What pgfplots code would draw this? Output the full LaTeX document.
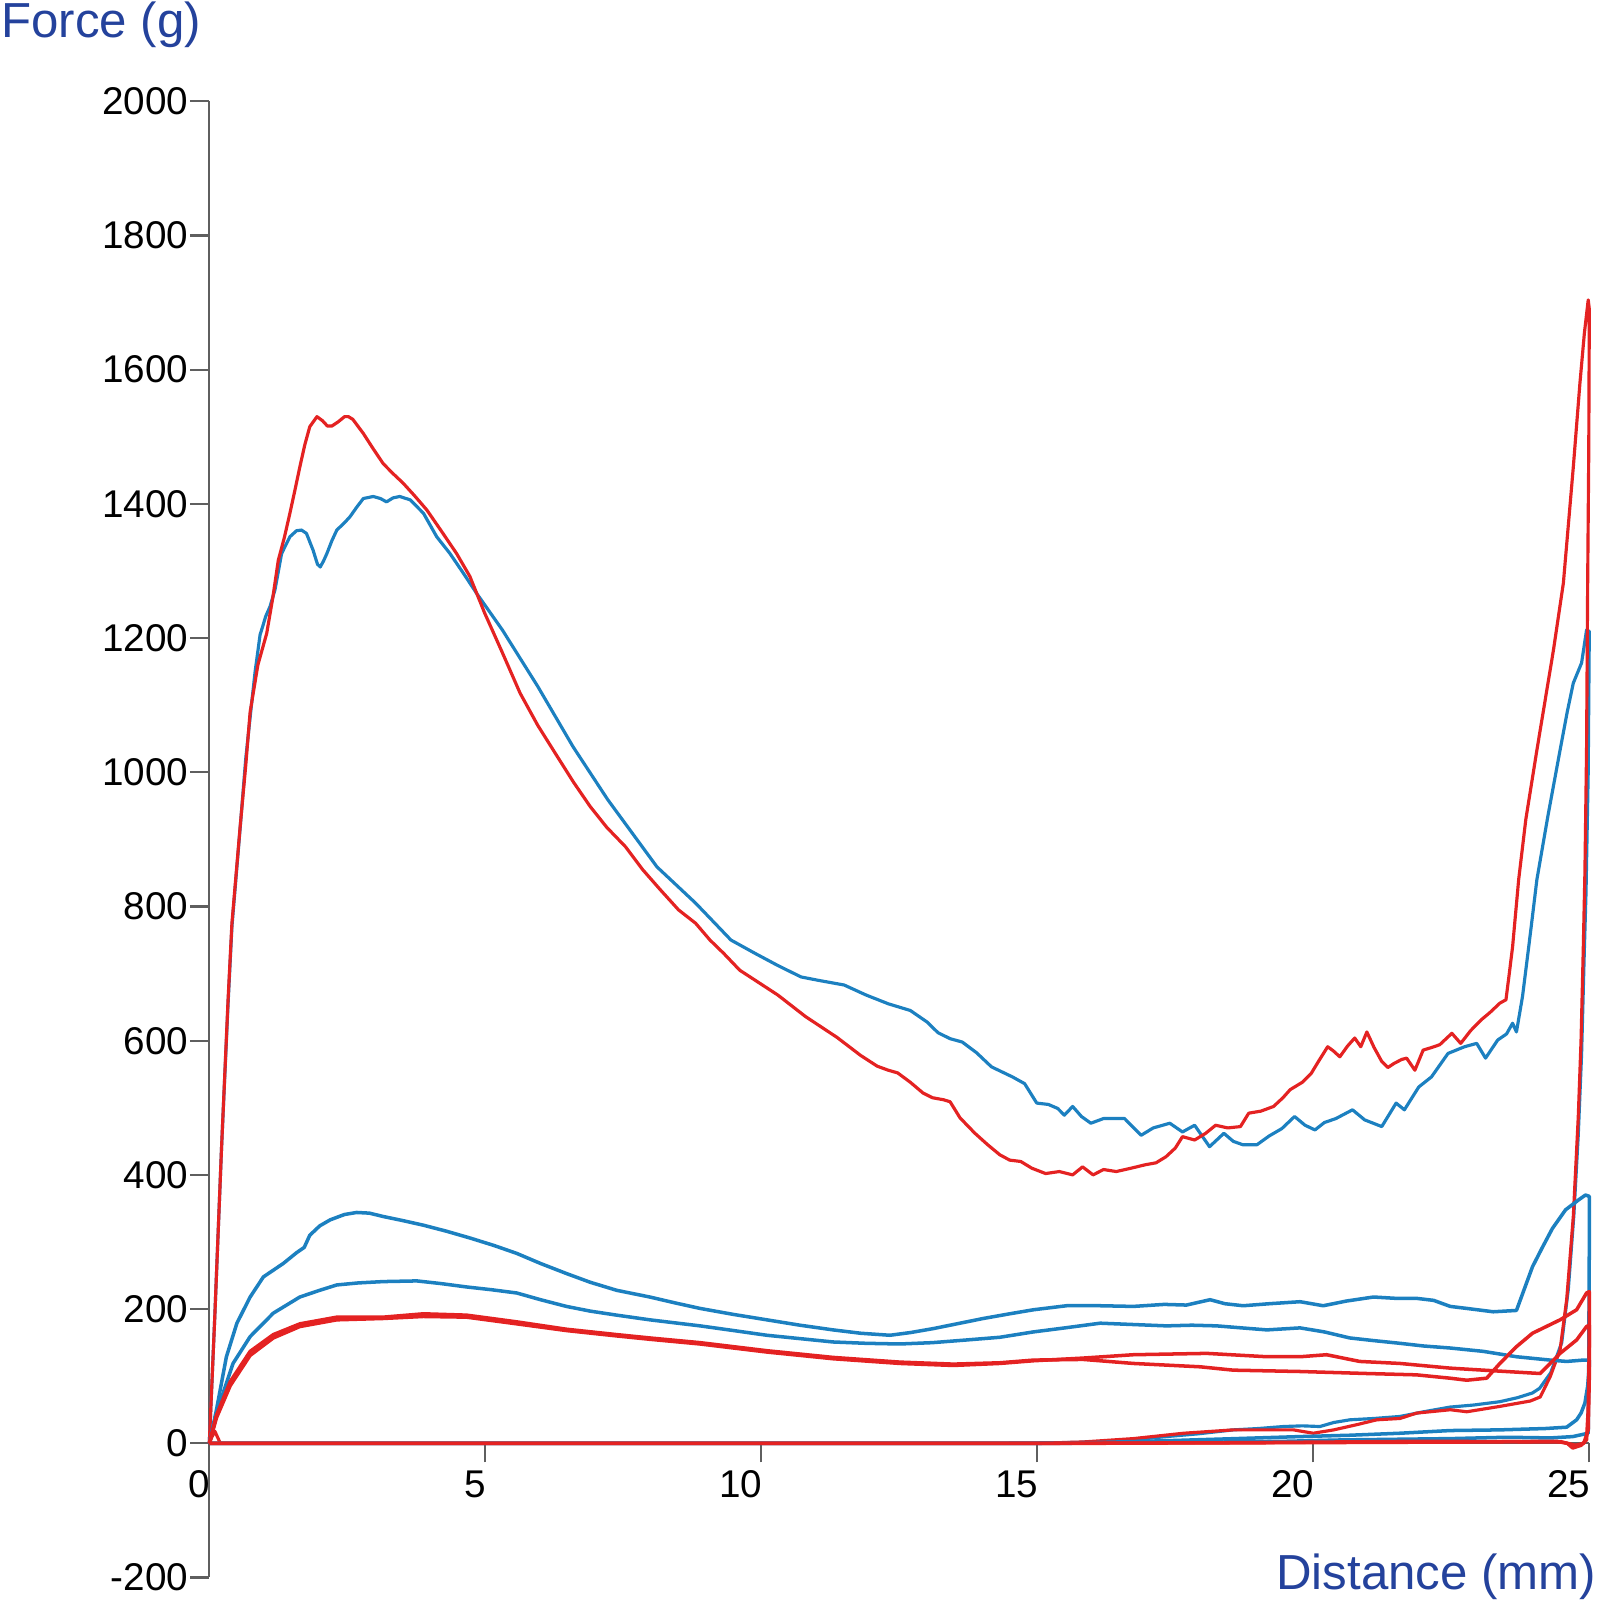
\documentclass[border=0pt]{standalone}
\usepackage{fontspec}
\setmainfont{Liberation Sans}
\usepackage{pgfplots}
\pgfplotsset{compat=1.18}
\definecolor{traceblue}{RGB}{28,128,192}
\definecolor{tracered}{RGB}{228,34,34}
\definecolor{axisgray}{RGB}{95,95,95}
\definecolor{labelblue}{RGB}{36,66,156}

\begin{document}
\begin{tikzpicture}
\begin{axis}[
  name=ax, at={(0,0)}, anchor=south west,
  set layers,
  scale only axis,
  width=13.8cm, height=14.762cm,
  xmin=0, xmax=25, ymin=-200, ymax=2000,
  axis y line=left, axis x line=middle,
  axis line style={-, draw=axisgray, line width=0.6pt},
  hide obscured x ticks=false,
  xtick={0,5,10,15,20,25},
  ytick={-200,0,200,400,600,800,1000,1200,1400,1600,1800,2000},
  xticklabels={0,5,10,15,20,25},
  yticklabels={-200,0,200,400,600,800,1000,1200,1400,1600,1800,2000},
  tick align=outside,
  major tick length=0.19cm,
  every tick/.style={draw=axisgray, line width=0.6pt},
  minor tick num=0,
  tick label style={font=\fontsize{11}{13}\selectfont, text=black},
  xticklabel style={anchor=north east, inner sep=0pt, xshift=0.015cm, yshift=-0.08cm},
  yticklabel style={anchor=east, inner sep=0pt, xshift=-0.015cm},
  clip=false,
  every axis plot/.append style={line join=round},
]

% ---- sample 1, high force (blue) ----
\addplot[traceblue, line width=0.9pt] coordinates {
(0,0) (0.1,190) (0.22,437) (0.34,655) (0.41,770) (0.56,918) (0.66,1020) (0.75,1090)
(0.83,1150) (0.92,1205) (0.97,1218) (1.02,1232) (1.10,1247) (1.19,1272) (1.31,1326)
(1.46,1351) (1.58,1360) (1.67,1361) (1.76,1356) (1.88,1331) (1.96,1310) (2.01,1306)
(2.07,1315) (2.13,1326) (2.22,1345) (2.31,1361) (2.45,1372) (2.55,1381) (2.67,1395)
(2.79,1408) (2.97,1411) (3.10,1408) (3.21,1403) (3.33,1409) (3.45,1411) (3.64,1406)
(3.88,1386) (4.12,1351) (4.36,1326) (4.60,1297) (4.84,1267) (5.31,1212) (5.95,1128)
(6.59,1038) (7.22,959) (8.11,859) (8.81,805) (9.45,750) (9.89,730) (10.3,712)
(10.72,695) (11.03,690) (11.5,683) (11.9,668) (12.3,655) (12.7,645) (13.0,628)
(13.2,612) (13.42,603) (13.64,598) (13.9,582) (14.17,561) (14.55,546) (14.77,536)
(14.99,507) (15.2,505) (15.37,499) (15.49,489) (15.64,502) (15.8,487) (15.97,477)
(16.2,484) (16.58,484) (16.88,459) (17.1,470) (17.4,477) (17.63,464) (17.85,474)
(18.12,442) (18.38,462) (18.55,450) (18.72,445) (18.98,445) (19.2,458) (19.43,469)
(19.66,487) (19.85,474) (20.03,467) (20.2,478) (20.41,484) (20.71,497) (20.93,482)
(21.24,472) (21.5,507) (21.65,497) (21.91,531) (22.14,546) (22.44,581) (22.74,591)
(22.96,596) (23.12,574) (23.34,601) (23.5,610) (23.61,626) (23.68,613) (23.79,666)
(23.94,765) (24.05,840) (24.25,935) (24.47,1033) (24.6,1090) (24.71,1133) (24.86,1163)
(24.95,1212) (25.0,1210)
(24.98,1000) (24.94,820) (24.91,735) (24.86,580) (24.80,460) (24.72,340) (24.62,230)
(24.5,150) (24.3,105) (24.1,82) (23.97,75) (23.7,68) (23.38,62) (22.9,57) (22.48,54)
(22.0,47) (21.57,40) (21.1,37) (20.66,35) (20.37,31) (20.12,25) (19.8,26) (19.46,25)
(19.0,22) (18.55,20) (17.9,14) (17.34,10) (16.7,5) (16.14,2) (15.5,1) (14,0) (10,0)
(5,0) (1,0) (0,0)
};

% ---- sample 1, high force (red) ----
\addplot[tracered, line width=0.9pt] coordinates {
(0,0) (0.1,190) (0.22,437) (0.34,661) (0.41,775) (0.56,920) (0.66,1010) (0.74,1090)
(0.88,1160) (1.04,1207) (1.15,1260) (1.25,1316) (1.36,1350) (1.46,1386) (1.55,1420)
(1.64,1455) (1.73,1488) (1.82,1515) (1.95,1530) (2.05,1524) (2.14,1516) (2.22,1516)
(2.33,1522) (2.45,1530) (2.52,1530) (2.6,1526) (2.79,1505) (2.97,1482) (3.15,1460)
(3.33,1445) (3.51,1431) (3.72,1412) (3.94,1391) (4.2,1360) (4.48,1326) (4.72,1292)
(4.99,1237) (5.3,1180) (5.63,1118) (5.95,1070) (6.27,1028) (6.6,985) (6.90,949)
(7.2,918) (7.54,889) (7.85,855) (8.17,825) (8.5,795) (8.81,775) (9.07,750) (9.32,730)
(9.61,705) (9.89,690) (10.3,668) (10.8,636) (11.37,605) (11.8,578) (12.1,562)
(12.3,556) (12.47,552) (12.7,538) (12.93,522) (13.1,515) (13.3,512) (13.42,509)
(13.6,485) (13.87,462) (14.1,445) (14.32,430) (14.5,422) (14.70,420) (14.9,410)
(15.15,402) (15.4,405) (15.64,400) (15.82,412) (16.01,400) (16.2,408) (16.43,405)
(16.7,410) (16.95,415) (17.15,418) (17.33,427) (17.5,440) (17.63,457) (17.85,452)
(18.05,462) (18.23,474) (18.45,470) (18.68,472) (18.83,492) (19.05,495) (19.28,502)
(19.45,515) (19.58,527) (19.8,538) (19.96,551) (20.1,570) (20.26,591) (20.36,585)
(20.48,576) (20.62,592) (20.75,604) (20.86,591) (20.97,613) (21.1,590) (21.24,569)
(21.35,560) (21.46,566) (21.6,572) (21.69,574) (21.84,556) (21.99,586) (22.15,590)
(22.29,594) (22.51,611) (22.67,596) (22.85,615) (23.04,631) (23.2,642) (23.38,656)
(23.49,661) (23.55,700) (23.61,740) (23.72,840) (23.85,930) (24.05,1033) (24.35,1182)
(24.53,1282) (24.71,1455) (24.83,1580) (24.91,1654) (24.98,1704) (25.0,1690)
(24.99,1480) (24.97,1282) (24.95,1033) (24.92,850) (24.89,735) (24.85,600) (24.80,487)
(24.71,338) (24.59,214) (24.47,139) (24.29,99) (24.11,69) (23.93,63) (23.38,55)
(22.78,47) (22.48,50) (21.87,45) (21.57,37) (21.15,35) (20.8,28) (20.37,20) (20.0,15)
(19.64,20) (19.1,20) (18.55,20) (17.65,15) (16.74,7) (15.83,2) (15,0) (10,0) (5,0)
(1,0) (0.2,0) (0.1,18) (0.05,10) (0,0)
};

% ---- sample 2 (blue, upper) ----
\addplot[traceblue, line width=1pt] coordinates {
(0,0) (0.13,50) (0.31,129) (0.5,179) (0.74,218) (0.98,248) (1.34,268) (1.58,284)
(1.72,292) (1.82,310) (2.0,324) (2.19,333) (2.45,341) (2.67,344) (2.9,343) (3.15,338)
(3.5,332) (3.88,325) (4.3,316) (4.72,306) (5.15,295) (5.57,283) (6.0,268) (6.47,253)
(6.9,240) (7.38,228) (7.98,218) (8.45,209) (8.89,201) (9.5,192) (10.10,184) (10.7,176)
(11.30,169) (11.8,164) (12.33,161) (12.7,165) (13.12,171) (13.6,179) (14.02,186)
(14.5,193) (14.93,199) (15.53,205) (16.14,205) (16.74,204) (17.3,207) (17.7,206)
(18.13,214) (18.4,208) (18.73,205) (19.2,208) (19.76,211) (20.18,205) (20.6,212)
(21.09,218) (21.5,216) (21.87,216) (22.18,213) (22.48,204) (22.78,201) (23.26,196)
(23.68,198) (23.97,263) (24.15,292) (24.33,320) (24.57,348) (24.81,363) (24.93,370)
(25,368) (25,300) (24.99,120) (24.98,15) (24.7,10) (24.3,8) (23.5,9) (22.5,7)
(21.5,6) (20.5,5) (19.5,3) (18.5,2) (17,1) (15.5,0) (0,0)
};

% ---- sample 2 (blue, lower) ----
\addplot[traceblue, line width=1pt] coordinates {
(0,0) (0.19,60) (0.43,119) (0.74,159) (1.16,194) (1.64,218) (2.0,228) (2.31,236)
(2.7,239) (3.15,241) (3.76,242) (4.2,238) (4.66,233) (5.1,229) (5.57,224) (6.0,214)
(6.47,204) (6.9,197) (7.38,191) (7.98,184) (8.89,175) (9.5,168) (10.10,161) (10.7,156)
(11.30,151) (11.9,149) (12.51,148) (13.1,150) (13.72,154) (14.32,158) (14.93,166)
(15.5,172) (16.14,179) (16.74,177) (17.34,175) (17.8,176) (18.25,175) (18.7,172)
(19.16,169) (19.76,172) (20.2,166) (20.66,157) (21.1,153) (21.57,149) (22.0,145)
(22.48,142) (23.08,137) (23.68,129) (24.29,124) (24.59,122) (24.89,124) (25,124)
(25,115) (24.97,85) (24.92,60) (24.85,45) (24.77,35) (24.59,24) (24.2,22) (23.38,20)
(22.48,19) (21.57,15) (20.66,12) (19.76,10) (18.6,7) (17.4,4) (16,1) (15,0) (0,0)
};

% ---- sample 2 (red, ends high) ----
\addplot[tracered, line width=1pt] coordinates {
(0,0) (0.13,42) (0.38,92) (0.74,137) (1.16,162) (1.64,178) (2.31,188) (3.15,188)
(3.88,193) (4.66,191) (5.57,181) (6.47,170) (7.38,162) (7.98,157) (8.89,150)
(10.10,138) (11.30,128) (12.51,121) (13.48,118) (14.32,120) (14.93,124) (15.83,125)
(16.74,119) (17.95,114) (18.55,109) (19.76,107) (20.97,104) (21.87,102) (22.48,97)
(22.78,94) (23.14,97) (23.38,119) (23.68,144) (23.97,164) (24.47,184) (24.77,199)
(24.95,224) (25.0,226) (25.0,150) (24.98,50) (24.95,5) (24.85,-3) (24.7,-7) (24.6,0)
(24.4,3) (23,2) (20,1) (15,0) (0,0)
};

% ---- sample 2 (red, ends low) ----
\addplot[tracered, line width=1pt] coordinates {
(0,0) (0.13,38) (0.38,86) (0.74,131) (1.16,157) (1.64,174) (2.31,184) (3.15,186)
(3.88,189) (4.66,188) (5.57,178) (6.47,168) (7.38,160) (7.98,155) (8.89,148)
(10.10,136) (11.30,126) (12.51,119) (13.48,116) (14.32,119) (14.93,123) (15.83,127)
(16.74,132) (18.07,134) (19.16,129) (19.76,129) (20.24,132) (20.84,122) (21.57,119)
(22.48,112) (23.08,109) (24.11,104) (24.47,134) (24.77,154) (24.95,174) (25.0,176)
(25.0,100) (24.98,20) (24.9,0) (24.75,-3) (24.5,2) (22,3) (19,1) (16,0) (0,0)
};
\end{axis}

\pgfresetboundingbox
\useasboundingbox (-2.093,-0.225) rectangle (13.907,15.775);
\node[anchor=base west, inner sep=0pt, text=labelblue, font=\fontsize{14}{16}\selectfont]
  at (-2.085,15.402) {Force (g)};
\node[anchor=base east, inner sep=0pt, text=labelblue, font=\fontsize{14}{16}\selectfont]
  at (13.877,-0.125) {Distance (mm)};
\end{tikzpicture}
\end{document}
